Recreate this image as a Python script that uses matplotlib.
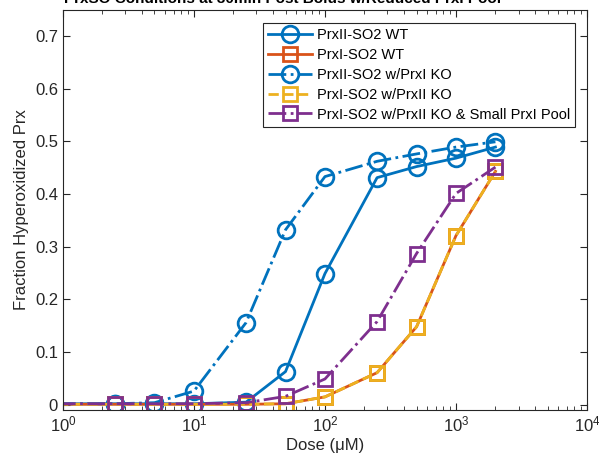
import matplotlib
matplotlib.use("Agg")
from matplotlib import pyplot as plt
from matplotlib.ticker import LogLocator, NullFormatter

plt.rcParams['font.family'] = ['Liberation Sans', 'DejaVu Sans']
plt.rcParams['mathtext.fontset'] = 'custom'
plt.rcParams['mathtext.rm'] = 'Liberation Sans'
plt.rcParams['mathtext.it'] = 'Liberation Sans:italic'

# doses in uM (first one sits left of the axis, no marker shown)
dose = [0.1, 2.5, 5, 10, 25, 50, 100, 250, 500, 1000, 2000]

prx2_wt = [0.002, 0.002, 0.002, 0.002, 0.005, 0.063, 0.249, 0.431, 0.452, 0.468, 0.489]
prx1_wt = [0.001, 0.001, 0.001, 0.001, 0.001, 0.002, 0.015, 0.061, 0.148, 0.321, 0.443]
prx2_ko = [0.002, 0.002, 0.004, 0.026, 0.156, 0.332, 0.433, 0.462, 0.476, 0.489, 0.499]
prx1_ko2 = [0.001, 0.001, 0.001, 0.001, 0.001, 0.002, 0.015, 0.061, 0.148, 0.321, 0.443]
prx1_small = [0.002, 0.002, 0.002, 0.002, 0.004, 0.016, 0.049, 0.158, 0.287, 0.401, 0.451]

labels = ["PrxII-SO2 WT", "PrxI-SO2 WT", "PrxII-SO2 w/PrxI KO",
          "PrxI-SO2 w/PrxII KO", "PrxI-SO2 w/PrxII KO & Small PrxI Pool"]
title = "PrxSO Conditions at 30min Post Bolus w/Reduced PrxI Pool"

blue = "#0072BD"
orange = "#D95319"
yellow = "#EDB120"
purple = "#7E2F8E"
axc = "#262626"

fig = plt.figure(figsize=(5.99, 4.66), dpi=100)
ax = fig.add_axes([0.105, 0.120, 0.875, 0.8596])

common = dict(lw=2, mew=2, mfc='none', markevery=slice(1, None))
ax.plot(dose, prx2_wt, '-', color=blue, marker='o', ms=12, label=labels[0], **common)
ax.plot(dose, prx1_wt, '-', color=orange, marker='s', ms=10, label=labels[1], **common)
ax.plot(dose, prx2_ko, '-.', color=blue, marker='o', ms=12, label=labels[2], **common)
ax.plot(dose, prx1_ko2, '--', color=yellow, marker='s', ms=10, label=labels[3], **common)
ax.plot(dose, prx1_small, '-.', color=purple, marker='s', ms=10, label=labels[4], **common)

ax.set_xscale('log')
ax.set_xlim(1, 1e4)
ax.set_ylim(-0.01, 0.75)
ax.set_yticks([0, 0.1, 0.2, 0.3, 0.4, 0.5, 0.6, 0.7])
ax.set_yticklabels(['0', '0.1', '0.2', '0.3', '0.4', '0.5', '0.6', '0.7'])
ax.xaxis.set_minor_locator(LogLocator(base=10, subs=range(2, 10)))
ax.xaxis.set_minor_formatter(NullFormatter())

ax.tick_params(which='both', direction='in', top=True, right=True, colors=axc, labelsize=12)
ax.tick_params(which='major', length=5, width=0.8)
ax.tick_params(which='minor', length=3, width=0.6)
for s in ax.spines.values():
    s.set_color(axc)
    s.set_linewidth(0.8)

ax.set_xlabel("Dose (μM)", fontsize=12, color=axc, labelpad=2)
ax.set_ylabel("Fraction Hyperoxidized Prx", fontsize=12, color=axc)
# title mostly runs off the top of the figure, as in the original
fig.text(0.472, 1 - 3.0 / 466, title, fontsize=11, fontweight='bold',
         ha='center', va='baseline', color='black')

leg = ax.legend(loc='upper right', bbox_to_anchor=(0.977, 0.966), borderaxespad=0,
                fontsize=10.5, handlelength=3.0, handletextpad=0.3, labelspacing=0.4,
                fancybox=False, framealpha=1, edgecolor=axc, borderpad=0.35)
leg.get_frame().set_linewidth(0.8)

fig.savefig("out.png", dpi=100)
